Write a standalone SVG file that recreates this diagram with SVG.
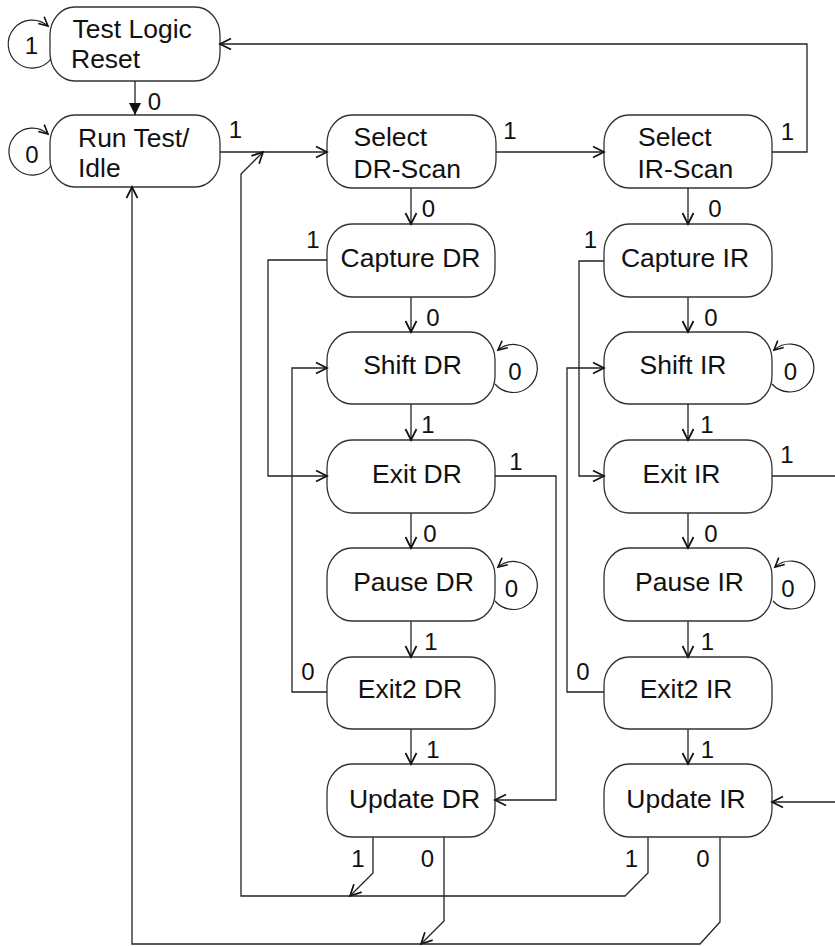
<svg xmlns="http://www.w3.org/2000/svg" width="835" height="947" viewBox="0 0 835 947">
<defs>
<style>
.box{fill:#fff;stroke:#333;stroke-width:1.3}
.t{font-family:"Liberation Sans",Arial,Helvetica,sans-serif;font-size:25px;fill:#111}
.tm{text-anchor:middle}
.l{font-family:"Liberation Sans",Arial,Helvetica,sans-serif;font-size:24px;fill:#111;text-anchor:middle}
.c{fill:none;stroke:#222;stroke-width:1.3}
.ca{fill:none;stroke:#222;stroke-width:1.3;marker-end:url(#open)}
.lp{fill:none;stroke:#222;stroke-width:1.2;marker-end:url(#small)}
</style>
<marker id="open" viewBox="-13 -7 14 14" refX="0" refY="0" markerWidth="14" markerHeight="14" markerUnits="userSpaceOnUse" orient="auto" overflow="visible">
<path d="M-11,-5.5 L0,0 L-11,5.5" fill="none" stroke="#111" stroke-width="1.7"/>
</marker>
<marker id="small" viewBox="-11 -6 12 12" refX="0" refY="0" markerWidth="12" markerHeight="12" markerUnits="userSpaceOnUse" orient="auto" overflow="visible">
<path d="M-9,-4.5 L0,0 L-9,4.5" fill="none" stroke="#111" stroke-width="1.6"/>
</marker>
<marker id="solid" viewBox="-13 -7 14 14" refX="0" refY="0" markerWidth="14" markerHeight="14" markerUnits="userSpaceOnUse" orient="auto" overflow="visible">
<path d="M0,0 L-12,-6 L-12,6 Z" fill="#111"/>
</marker>
</defs>
<rect x="0" y="0" width="835" height="947" fill="#fff"/>

<g id="tlr">
<rect class="box" x="50" y="7" width="170" height="74" rx="25" ry="28"/>
<text class="t" transform="translate(72.5,38) scale(1.06,1)">Test Logic</text>
<text class="t" transform="translate(71,68) scale(1.06,1)">Reset</text>
</g>
<g id="rti">
<rect class="box" x="50" y="115" width="170" height="72" rx="25" ry="28"/>
<text class="t" transform="translate(78,147) scale(1.06,1)">Run Test/</text>
<text class="t" transform="translate(78,177) scale(1.06,1)">Idle</text>
</g>
<g id="seldr">
<rect class="box" x="327" y="115" width="169" height="73" rx="25" ry="28"/>
<text class="t" transform="translate(353.5,146) scale(1.06,1)">Select</text>
<text class="t" transform="translate(353.5,178) scale(1.06,1)">DR-Scan</text>
</g>
<g id="selir">
<rect class="box" x="604" y="115" width="168" height="73" rx="25" ry="28"/>
<text class="t" transform="translate(638,146) scale(1.06,1)">Select</text>
<text class="t" transform="translate(637.5,178) scale(1.06,1)">IR-Scan</text>
</g>
<g id="capdr">
<rect class="box" x="327" y="224" width="168" height="73" rx="25" ry="28"/>
<text class="t tm" transform="translate(410.5,267) scale(1.06,1)">Capture DR</text>
</g>
<g id="capir">
<rect class="box" x="604" y="224" width="168" height="73" rx="25" ry="28"/>
<text class="t tm" transform="translate(685,267) scale(1.06,1)">Capture IR</text>
</g>
<g id="shiftdr">
<rect class="box" x="327" y="332" width="168" height="72" rx="25" ry="28"/>
<text class="t tm" transform="translate(412.5,374) scale(1.06,1)">Shift DR</text>
</g>
<g id="shiftir">
<rect class="box" x="604" y="332" width="168" height="72" rx="25" ry="28"/>
<text class="t tm" transform="translate(683,374) scale(1.06,1)">Shift IR</text>
</g>
<g id="exitdr">
<rect class="box" x="327" y="440" width="168" height="73" rx="25" ry="28"/>
<text class="t tm" transform="translate(417,483) scale(1.06,1)">Exit DR</text>
</g>
<g id="exitir">
<rect class="box" x="604" y="440" width="168" height="73" rx="25" ry="28"/>
<text class="t tm" transform="translate(681.5,483) scale(1.06,1)">Exit IR</text>
</g>
<g id="pausedr">
<rect class="box" x="327" y="548" width="168" height="73" rx="25" ry="28"/>
<text class="t tm" transform="translate(413.5,591) scale(1.06,1)">Pause DR</text>
</g>
<g id="pauseir">
<rect class="box" x="604" y="548" width="168" height="73" rx="25" ry="28"/>
<text class="t tm" transform="translate(689.5,591) scale(1.06,1)">Pause IR</text>
</g>
<g id="exit2dr">
<rect class="box" x="327" y="657" width="168" height="72" rx="25" ry="28"/>
<text class="t tm" transform="translate(410,698) scale(1.06,1)">Exit2 DR</text>
</g>
<g id="exit2ir">
<rect class="box" x="604" y="657" width="168" height="72" rx="25" ry="28"/>
<text class="t tm" transform="translate(686,698) scale(1.06,1)">Exit2 IR</text>
</g>
<g id="updatedr">
<rect class="box" x="327" y="764" width="168" height="73" rx="25" ry="28"/>
<text class="t tm" transform="translate(414.5,808) scale(1.06,1)">Update DR</text>
</g>
<g id="updateir">
<rect class="box" x="604" y="764" width="168" height="73" rx="25" ry="28"/>
<text class="t tm" transform="translate(686,808) scale(1.06,1)">Update IR</text>
</g>

<g id="connectors">
<!-- self loops -->
<path class="lp" d="M51,59 A24,24 0 1 1 48,26"/>
<path class="lp" d="M51,166 A23.5,23.5 0 1 1 48,134"/>
<path class="lp" d="M495,384 A24,24 0 1 0 498,350"/>
<path class="lp" d="M495,601 A24,24 0 1 0 498,567"/>
<path class="lp" d="M772,384 A24,24 0 1 0 774,350"/>
<path class="lp" d="M773,601 A24,24 0 1 0 775,567"/>
<!-- main transitions -->
<path class="c" d="M135,81 V115" marker-end="url(#solid)"/>
<path class="ca" d="M220,152 H327"/>
<path class="ca" d="M496,152 H604"/>
<path class="ca" d="M772,152 H807 V44 H220"/>
<path class="ca" d="M411,188 V224"/>
<path class="ca" d="M688,188 V224"/>
<path class="ca" d="M411,297 V332"/>
<path class="ca" d="M688,297 V332"/>
<path class="ca" d="M411,404 V440"/>
<path class="ca" d="M688,404 V440"/>
<path class="ca" d="M411,513 V548"/>
<path class="ca" d="M688,513 V548"/>
<path class="ca" d="M411,621 V657"/>
<path class="ca" d="M688,621 V657"/>
<path class="ca" d="M411,729 V764"/>
<path class="ca" d="M688,729 V764"/>
<path class="ca" d="M327,260 H268 V476 H327"/>
<path class="ca" d="M604,261 H579 V476 H604"/>
<path class="ca" d="M327,692 H292 V368 H327"/>
<path class="ca" d="M604,692 H567 V368 H604"/>
<path class="ca" d="M495,476 H556 V800 H495"/>
<path class="c" d="M772,476 H845"/>
<path class="ca" d="M845,802 H772"/>
<path class="ca" d="M373,837 V873 L350,896"/>
<path class="ca" d="M444,837 V921 L421,944"/>
<path class="ca" d="M648,837 V873 L625,896 H241 V174 L263,152"/>
<path class="ca" d="M720,837 V922 L700,944 H132 V187"/>
<!-- labels -->
<text class="l" x="31.5" y="54">1</text>
<text class="l" x="32" y="163">0</text>
<text class="l" x="154.5" y="110">0</text>
<text class="l" x="235.5" y="138">1</text>
<text class="l" x="510" y="139">1</text>
<text class="l" x="787.5" y="140">1</text>
<text class="l" x="428.5" y="217">0</text>
<text class="l" x="715" y="217">0</text>
<text class="l" x="313" y="248">1</text>
<text class="l" x="590.5" y="248">1</text>
<text class="l" x="433" y="326">0</text>
<text class="l" x="711" y="326">0</text>
<text class="l" x="515" y="380">0</text>
<text class="l" x="790.5" y="380">0</text>
<text class="l" x="428" y="433">1</text>
<text class="l" x="707" y="433">1</text>
<text class="l" x="516" y="470">1</text>
<text class="l" x="787" y="463">1</text>
<text class="l" x="430" y="542">0</text>
<text class="l" x="711" y="542">0</text>
<text class="l" x="511.5" y="597">0</text>
<text class="l" x="788" y="597">0</text>
<text class="l" x="431" y="650">1</text>
<text class="l" x="707.5" y="650">1</text>
<text class="l" x="308" y="680">0</text>
<text class="l" x="583" y="680">0</text>
<text class="l" x="433" y="758">1</text>
<text class="l" x="707.5" y="758">1</text>
<text class="l" x="358" y="867">1</text>
<text class="l" x="427.5" y="867">0</text>
<text class="l" x="631.5" y="867">1</text>
<text class="l" x="703" y="867">0</text>
</g>
</svg>
